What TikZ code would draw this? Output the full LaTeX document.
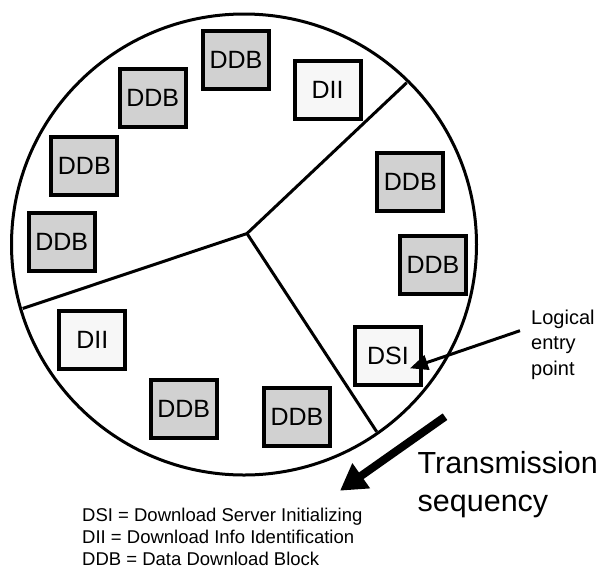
\documentclass[tikz,border=0pt]{standalone}
\usepackage{fontspec}
\setmainfont{Liberation Sans}
\usetikzlibrary{arrows.meta}
\begin{document}
\begin{tikzpicture}[x=1pt,y=-1pt,
  block/.style={draw,line width=4pt,minimum width=66pt,minimum height=58pt,inner sep=0pt,font=\fontsize{25}{30}\selectfont},
  ddb/.style={block,fill=black!18},
  dii/.style={block,fill=black!3},
  spoke/.style={line width=3pt}]
  \useasboundingbox (0,0) rectangle (610,568);
  \draw[line width=3pt] (244,244.5) ellipse [x radius=232.5,y radius=230.5];
  \coordinate (hub) at (247,233.5);
  \coordinate (spokeA) at (406.7,82.7);
  \coordinate (spokeB) at (22.7,308.5);
  \coordinate (spokeC) at (376.7,431.7);
  \draw[spoke] (spokeA) -- (hub) -- (spokeB);
  \draw[spoke] (hub) -- (spokeC);
  \node[ddb] (ddbA) at (236,59.5) {DDB};
  \node[dii] (diiA) at (327.5,90) {DII};
  \node[ddb] (ddbB) at (152.7,97.8) {DDB};
  \node[ddb] (ddbC) at (84.3,166) {DDB};
  \node[ddb] (ddbD) at (61.7,241.7) {DDB};
  \node[ddb] (ddbE) at (410.3,181.5) {DDB};
  \node[ddb] (ddbF) at (433,264.5) {DDB};
  \node[dii] (dsi) at (388,355.8) {DSI};
  \node[dii] (diiB) at (92.3,340.2) {DII};
  \node[ddb] (ddbG) at (183.7,409.2) {DDB};
  \node[ddb] (ddbH) at (297,416.7) {DDB};
  % base anchor sits on the last line
  \node[align=left,anchor=base west,inner sep=0pt,font=\fontsize{20}{25.5}\selectfont] (entry) at (531,375) {Logical\\entry\\point};
  \coordinate (entrytail) at (520,330.7);
  \coordinate (entrytip) at (410,368.3);
  \draw[-{Triangle[length=18pt,width=15pt]},line width=3pt] (entrytail) -- (entrytip);
  \coordinate (seqtail) at (445,416.7);
  \coordinate (seqtip) at (340,490.7);
  \draw[-{Triangle[length=26pt,width=29pt]},line width=8pt] (seqtail) -- (seqtip);
  \node[align=left,anchor=base west,inner sep=0pt,font=\fontsize{30.5}{38}\selectfont] (seq) at (417.5,511) {Transmission\\sequency};
  \node[align=left,anchor=base west,inner sep=0pt,font=\fontsize{18.5}{21.6}\selectfont] (legend) at (82,565) {DSI = Download Server Initializing\\DII = Download Info Identification\\DDB = Data Download Block};
\end{tikzpicture}
\end{document}
